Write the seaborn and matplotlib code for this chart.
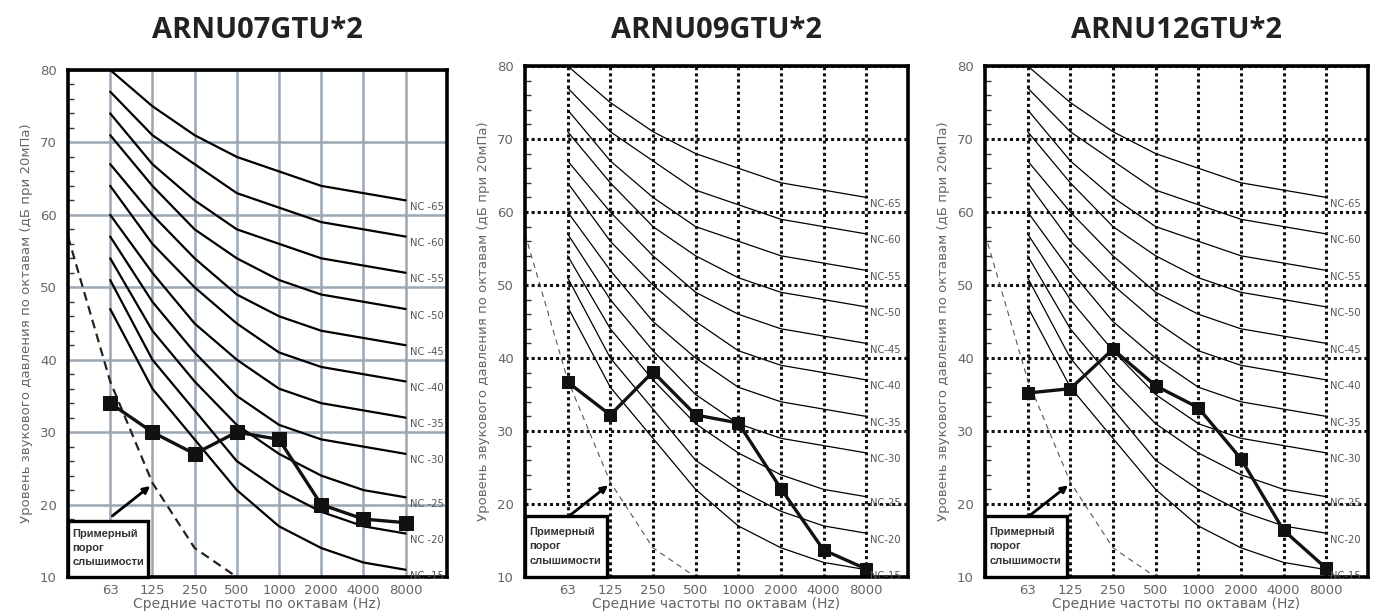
import seaborn as sns
import matplotlib.pyplot as plt
import matplotlib.patches as mpatches
import pandas as pd
import numpy as np

freqs = ["63", "125", "250", "500", "1000", "2000", "4000", "8000"]

nc_names = ["65", "60", "55", "50", "45", "40", "35", "30", "25", "20", "15"]
nc_levels = [
    [80, 75, 71, 68, 66, 64, 63, 62],
    [77, 71, 67, 63, 61, 59, 58, 57],
    [74, 67, 62, 58, 56, 54, 53, 52],
    [71, 64, 58, 54, 51, 49, 48, 47],
    [67, 60, 54, 49, 46, 44, 43, 42],
    [64, 56, 50, 45, 41, 39, 38, 37],
    [60, 52, 45, 40, 36, 34, 33, 32],
    [57, 48, 41, 35, 31, 29, 28, 27],
    [54, 44, 37, 31, 27, 24, 22, 21],
    [51, 40, 33, 26, 22, 19, 17, 16],
    [47, 36, 29, 22, 17, 14, 12, 11],
]

# hearing threshold, starting one octave below 63 Hz
threshold_pos = [-1, 0, 1, 2, 3]
threshold_level = [57, 37, 23, 14, 10]

titles = ["ARNU07GTU*2", "ARNU09GTU*2", "ARNU12GTU*2"]
unit_07 = [34, 30, 27, 30, 29, 20, 18, 17.5]
unit_09 = [36.7, 32.2, 38.1, 32.2, 31.1, 22.1, 13.7, 11.1]
unit_12 = [35.2, 35.8, 41.2, 36.2, 33.2, 26.2, 16.4, 11.2]

sns.set_style("white")
plt.rcParams["font.family"] = ["DejaVu Sans"]

W, H = 1383, 614
fig = plt.figure(figsize=(W / 100, H / 100), dpi=100)

boxes = [(68, 447, 70, 577), (525, 908, 66, 577), (985, 1368, 66, 577)]
units = [unit_07, unit_09, unit_12]

nc_rows = []
for name, lv in zip(nc_names, nc_levels):
    for i, v in enumerate(lv):
        nc_rows.append({"nc": name, "pos": i, "level": v})
nc_df = pd.DataFrame(nc_rows)
thr_df = pd.DataFrame({"pos": threshold_pos, "level": threshold_level})

for k, (l, r, t, b) in enumerate(boxes):
    ax = fig.add_axes([l / W, 1 - b / H, (r - l) / W, (b - t) / H])
    first = k == 0
    ax.set_axisbelow(True)
    if first:
        ax.grid(True, color="#9ba7b3", lw=1.8)
        nc_lw, thr_lw, thr_col, ms = 1.6, 1.6, "#222222", 10
    else:
        ax.grid(True, color="#111111", lw=2.2, linestyle=(0, (1, 1)))
        nc_lw, thr_lw, thr_col, ms = 0.9, 0.8, "#555555", 9

    sns.lineplot(data=nc_df, x="pos", y="level", units="nc", estimator=None,
                 color="black", lw=nc_lw, ax=ax)
    sns.lineplot(data=thr_df, x="pos", y="level", color=thr_col, lw=thr_lw,
                 linestyle=(0, (4, 2.5)) if first else (0, (5, 4)), ax=ax)
    dat = pd.DataFrame({"pos": range(len(freqs)), "level": units[k]})
    sns.lineplot(data=dat, x="pos", y="level", color="#111111", lw=2.4,
                 marker="s", markersize=ms, markeredgecolor="#111111", ax=ax)

    sep = "NC -" if first else "NC-"
    for name, lv in zip(nc_names, nc_levels):
        ax.text(7.1, lv[-1] - 0.9, sep + name, fontsize=7.2, color="#555555",
                va="center", ha="left")

    # hearing threshold note
    ax.add_patch(mpatches.Rectangle((-1, 10), 1.9 if first else 1.92,
                                    7.8 if first else 8.4, fill=True,
                                    facecolor="white", edgecolor="black",
                                    lw=2.4, zorder=5, clip_on=False))
    ax.text(-0.9, 14.0 if first else 14.2, "Примерный\nпорог\nслышимости",
            fontsize=8, color="#333333", fontweight="bold", va="center",
            ha="left", linespacing=1.55, zorder=6,
            family=["Liberation Sans", "DejaVu Sans"])
    ax.annotate("", xy=(1.0, 22.8), xytext=(0.0, 18.2),
                arrowprops=dict(arrowstyle="-|>", color="black", lw=2,
                                mutation_scale=10), zorder=6)

    ax.set_xlim(-1, 7.98)
    ax.set_ylim(10, 80)
    ax.set_xticks(range(len(freqs)))
    ax.set_xticklabels(freqs)
    ax.set_yticks(range(10, 81, 10))
    ax.set_yticks(range(10, 81, 2), minor=True)
    ax.tick_params(axis="both", which="major", length=0, labelsize=9.5,
                   labelcolor="#666666")
    ax.tick_params(axis="x", pad=5)
    ax.tick_params(axis="y", pad=8)
    ax.tick_params(axis="y", which="minor", direction="in", length=4,
                   width=1, color="#333333", left=True)
    ax.set_xlabel("Средние частоты по октавам (Hz)", fontsize=10,
                  color="#666666", labelpad=0)
    ax.set_ylabel("Уровень звукового давления по октавам (дБ при 20мПа)",
                  fontsize=9.5, color="#666666", labelpad=5)
    for s in ax.spines.values():
        s.set_visible(True)
        s.set_color("black")
        s.set_linewidth(2.6)

    fig.text((l + r) / 2 / W, 1 - 30 / H, titles[k], ha="center",
             va="center", fontsize=21, fontweight="bold", color="#222222",
             family=["Open Sans", "DejaVu Sans"])

fig.savefig("out.png", dpi=100)
